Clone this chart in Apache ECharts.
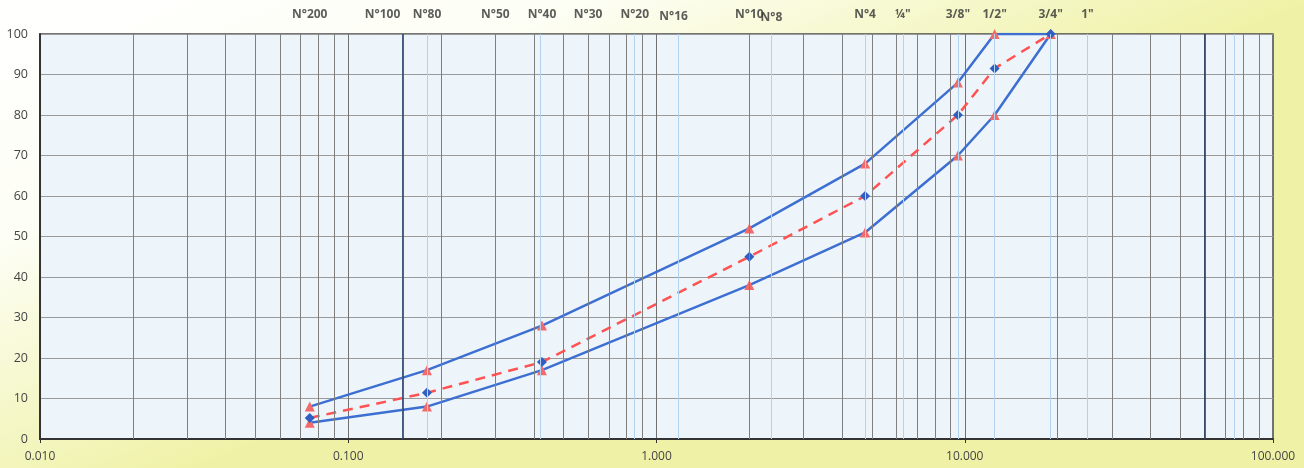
<!DOCTYPE html>
<html>
<head>
<meta charset="utf-8">
<script src="https://cdn.jsdelivr.net/npm/echarts@6/dist/echarts.min.js"></script>
<style>
  html, body { margin: 0; padding: 0; }
  #chart { width: 1304px; height: 468px; }
</style>
</head>
<body>
<div id="chart"></div>
<script>
// Sieve openings (mm) and passing percentages
const sieveSizes = [0.075, 0.18, 0.425, 2.0, 4.75, 9.5, 12.5, 19];
const upperLimit = [8, 17, 28, 52, 68, 88, 100, 100];
const lowerLimit = [4, 8, 17, 38, 51, 70, 80, 100];
const midCurve   = [5.2, 11.4, 19, 45, 60, 80, 91.5, 100];

// Sieve designations printed along the top edge
const sieveNames    = ['N°200', 'N°100', 'N°80', 'N°50', 'N°40', 'N°30', 'N°20', 'N°16', 'N°10', 'N°8', 'N°4', '¼"', '3/8"', '1/2"', '3/4"', '1"'];
const sieveOpenings = [0.075, 0.15, 0.18, 0.3, 0.425, 0.6, 0.85, 1.18, 2.0, 2.36, 4.75, 6.3, 9.5, 12.5, 19, 25];

// Axis tick labels
const xTickLabels = ['0.010', '0.100', '1.000', '10.000', '100.000'];
const yTicks = [0, 10, 20, 30, 40, 50, 60, 70, 80, 90, 100];

// Log-paper minor rulings: 2..9 within each decade
const decades = [0.01, 0.1, 1, 10];
const minorLines = [];
decades.forEach(d => { for (let k = 2; k <= 9; k++) minorLines.push(+(d * k).toPrecision(3)); });
const sieveLines = sieveOpenings.concat([75]);
const heavyLines = [0.15, 60];

const pairs = (xs, ys) => xs.map((x, i) => [x, ys[i]]);

// Small per-label nudges where adjacent names crowd each other
const labelNudge = { 'N°100': [-20, 0], 'N°16': [-5, 2], 'N°8': [0, 3] };

const gridMarks = []
  .concat(sieveLines.map(v => ({ xAxis: v, lineStyle: { color: '#b3d2ee', width: 1, type: 'solid' } })))
  .concat(minorLines.map(v => ({ xAxis: v, lineStyle: { color: '#808080', width: 1, type: 'solid' } })))
  .concat(heavyLines.map(v => ({ xAxis: v, lineStyle: { color: '#2a3d66', width: 1.6, type: 'solid' } })));

const chart = echarts.init(document.getElementById('chart'), null, { renderer: 'canvas' });

chart.setOption({
  animation: false,
  backgroundColor: {
    type: 'linear', x: 0, y: 0, x2: 0.15, y2: 1,
    colorStops: [
      { offset: 0, color: '#ffffff' },
      { offset: 0.45, color: '#fdfef4' },
      { offset: 1, color: '#eff2a6' }
    ]
  },
  grid: {
    left: 40, right: 31, top: 34, bottom: 29,
    show: true,
    backgroundColor: '#edf5fa',
    borderColor: '#4a4a4a',
    borderWidth: 1.5
  },
  xAxis: {
    type: 'log',
    logBase: 10,
    min: 0.01,
    max: 100,
    axisLine: { show: true, onZero: false, lineStyle: { color: '#333', width: 2 } },
    axisTick: { show: true, length: 4, lineStyle: { color: '#333' } },
    axisLabel: {
      margin: 12,
      color: '#444',
      fontFamily: 'Open Sans',
      fontSize: 12,
      formatter: v => {
        const i = Math.round(Math.log10(v)) + 2;
        return xTickLabels[i] !== undefined ? xTickLabels[i] : '';
      }
    },
    splitLine: { show: true, lineStyle: { color: '#707070', width: 1 } }
  },
  yAxis: {
    type: 'value',
    min: yTicks[0],
    max: yTicks[yTicks.length - 1],
    interval: 10,
    axisLine: { show: true, lineStyle: { color: '#333', width: 2 } },
    axisTick: { show: false },
    axisLabel: { margin: 12, color: '#444', fontFamily: 'Open Sans', fontSize: 12.5 },
    splitLine: { show: true, lineStyle: { color: '#9a9a9a', width: 1 } }
  },
  series: [
    {
      // Ruling lines and sieve designations
      type: 'scatter',
      z: 1,
      silent: true,
      symbolSize: 0,
      clip: false,
      data: sieveOpenings.map((x, i) => ({
        value: [x, 100],
        label: { offset: labelNudge[sieveNames[i]] || [0, 0] }
      })),
      label: {
        show: true,
        position: 'top',
        distance: 13,
        color: '#333',
        fontFamily: 'Open Sans',
        fontWeight: 'bold',
        fontSize: 12,
        formatter: p => sieveNames[p.dataIndex]
      },
      markLine: {
        silent: true,
        symbol: ['none', 'none'],
        label: { show: false },
        emphasis: { disabled: true },
        data: gridMarks
      }
    },
    {
      name: 'Upper limit',
      type: 'line',
      z: 3,
      data: pairs(sieveSizes, upperLimit),
      lineStyle: { color: '#3d6fd2', width: 2.5 },
      symbol: 'triangle',
      symbolSize: 10,
      itemStyle: { color: '#f26a6a' }
    },
    {
      name: 'Lower limit',
      type: 'line',
      z: 3,
      data: pairs(sieveSizes, lowerLimit),
      lineStyle: { color: '#3d6fd2', width: 2.5 },
      symbol: 'triangle',
      symbolSize: 10,
      itemStyle: { color: '#f26a6a' }
    },
    {
      name: 'Gradation',
      type: 'line',
      z: 4,
      data: pairs(sieveSizes, midCurve),
      lineStyle: { color: '#ff5252', width: 2.5, type: [10, 7] },
      symbol: 'diamond',
      symbolSize: 10,
      itemStyle: { color: '#2f5fc2' }
    }
  ]
});
</script>
</body>
</html>
